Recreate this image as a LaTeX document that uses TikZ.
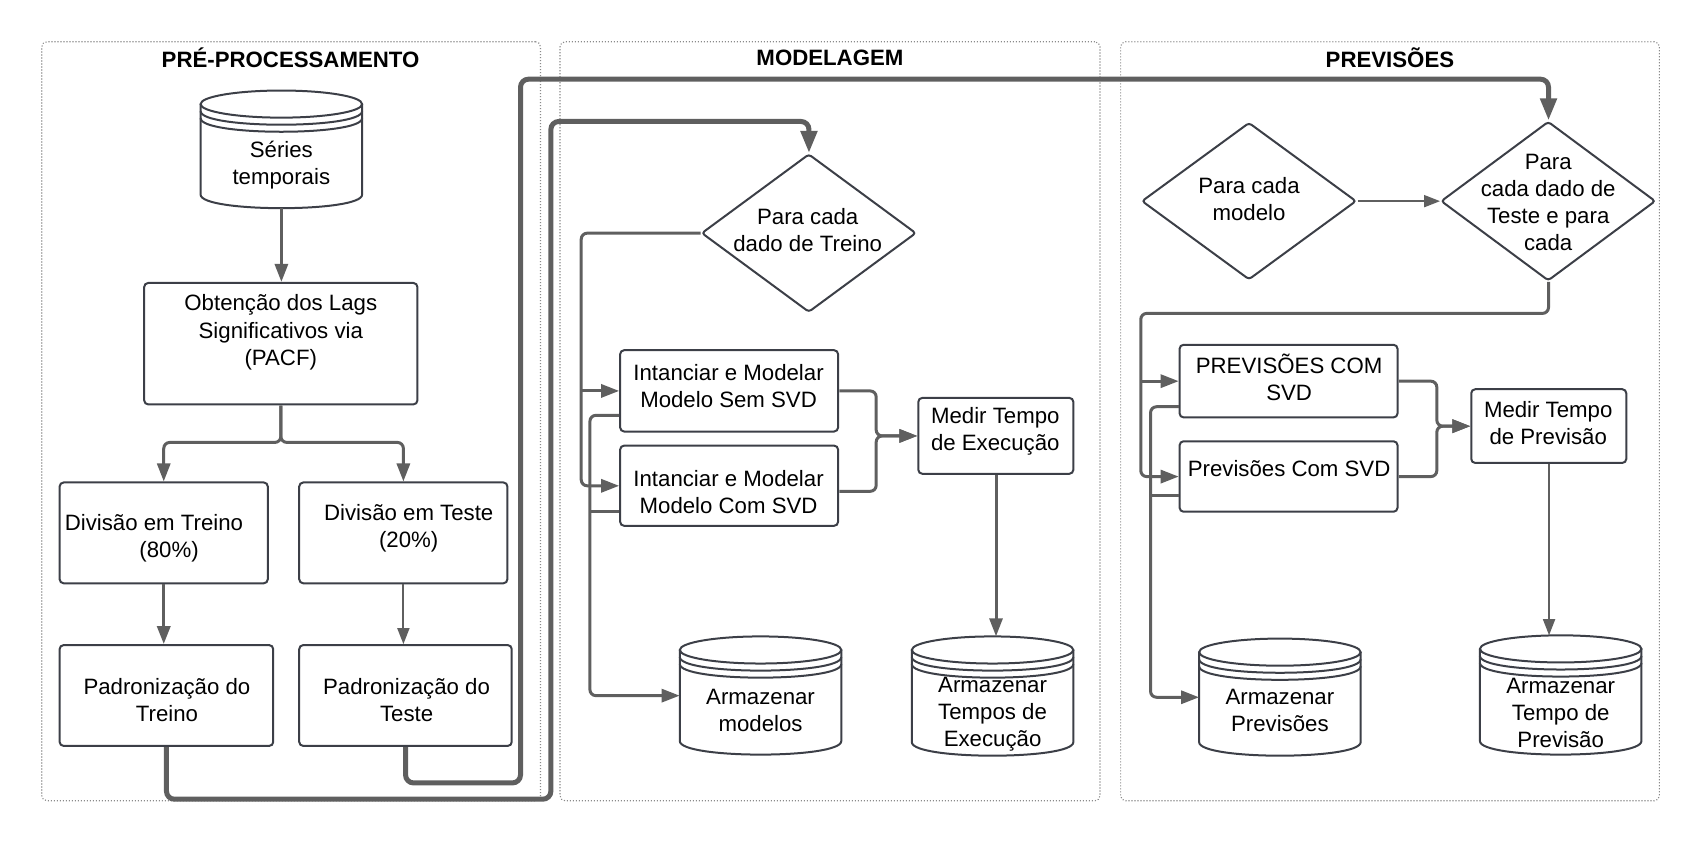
\documentclass[tikz,border=0pt]{standalone}
\usepackage{fontspec}
\setmainfont{Liberation Sans}
\usetikzlibrary{arrows.meta,shapes.geometric,calc}
\definecolor{conncol}{HTML}{5F5F5F}
\definecolor{bordcol}{HTML}{3C3F47}
\definecolor{panelcol}{HTML}{8A8A8A}
\tikzset{
  panel/.style={draw=panelcol, line width=1.1pt, dash pattern=on 1.1pt off 1.9pt, rounded corners=5pt, inner sep=0, anchor=north west},
  ttl/.style={font=\fontsize{20.5}{25}\selectfont\bfseries, inner sep=0},
  txt/.style={font=\fontsize{20.5}{25}\selectfont, align=center, inner sep=0},
  rbox/.style={draw=bordcol, line width=2pt, rounded corners=4pt, inner sep=0},
  dbox/.style={diamond, draw=bordcol, line width=2pt, rounded corners=3pt, inner sep=0},
  cylbox/.style={inner sep=0},
  cylline/.style={draw=bordcol, line width=2pt},
  plain/.style={draw=conncol, line width=3pt, rounded corners=6pt},
  conn/.style={plain, -{Triangle[length=18pt,width=13pt]}},
  thinconn/.style={draw=conncol, line width=1.8pt, -{Triangle[length=16pt,width=12pt]}},
  bigconn/.style={draw=conncol, line width=5pt, rounded corners=8pt, -{Triangle[length=22pt,width=16pt]}},
}
\newcommand\cylnode[5]{% name, cx, top, bottom, half width
  \node[cylbox, minimum width=2*#5, minimum height=#4-#3] (#1) at (#2,{(#3+#4)/2}) {};
  \draw[cylline] (#2,{#3+12.5}) ellipse [x radius=#5, y radius=12.5];
  \draw[cylline] ({#2-#5},{#3+12.5}) -- ({#2-#5},{#4-12.5})
     .. controls ({#2-#5},{#4+4.17}) and ({#2+#5},{#4+4.17}) .. ({#2+#5},{#4-12.5}) -- ({#2+#5},{#3+12.5});
  \draw[cylline] ({#2-#5},{#3+19}) .. controls ({#2-#5},{#3+35.7}) and ({#2+#5},{#3+35.7}) .. ({#2+#5},{#3+19});
  \draw[cylline] ({#2-#5},{#3+25.5}) .. controls ({#2-#5},{#3+42.2}) and ({#2+#5},{#3+42.2}) .. ({#2+#5},{#3+25.5});
}
\begin{document}
\begin{tikzpicture}[x=1pt,y=-1pt,scale=1.0842,transform shape]
\useasboundingbox (0,0) rectangle (1568,775.7);

% panels
\node[panel, minimum width=460, minimum height=700] (pan1) at (38,38) {};
\node[panel, minimum width=498, minimum height=700] (pan2) at (516,38) {};
\node[panel, minimum width=497, minimum height=700] (pan3) at (1033,38) {};
\node[ttl] (ttl1) at (268,53) {PRÉ-PROCESSAMENTO};
\node[ttl] (ttl2) at (765.5,53) {MODELAGEM};
\node[ttl] (ttl3) at (1282,53) {PREVISÕES};

% panel 1 shapes
\cylnode{ser}{259.5}{83.5}{192}{74.5}
\node[txt] (ser-t) at (259.5,152) {Séries\\temporais};
\node[rbox, minimum width=252, minimum height=112] (obt) at (259,317) {};
\node[txt] (obt-t) at (259,306.5) {Obtenção dos Lags\\Significativos via\\(PACF)};
\node[rbox, minimum width=192, minimum height=93] (dvTr) at (151,491.5) {};
\node[txt] (dvTr-t) at (156,496.5) {Divisão em Treino\hspace*{28pt}\\(80\%)};
\node[rbox, minimum width=192, minimum height=93] (dvTe) at (372,491.5) {};
\node[txt] (dvTe-t) at (377,487.5) {Divisão em Teste\\(20\%)};
\node[rbox, minimum width=197, minimum height=93] (pTr) at (153.5,641.5) {};
\node[txt] (pTr-t) at (154,645.5) {Padronização do\\Treino};
\node[rbox, minimum width=196, minimum height=93] (pTe) at (374,641.5) {};
\node[txt] (pTe-t) at (375,645.5) {Padronização do\\Teste};

% panel 2 shapes
\node[dbox, minimum width=198, minimum height=146] (dTr) at (746,215) {};
\node[txt] (dTr-t) at (745,212.5) {Para cada\\dado de Treino};
\node[rbox, minimum width=201, minimum height=75] (sem) at (672.5,360.5) {};
\node[txt] (sem-t) at (672,356) {Intanciar e Modelar\\Modelo Sem SVD};
\node[rbox, minimum width=201, minimum height=74] (com) at (672.5,448) {};
\node[txt] (com-t) at (672,453.5) {Intanciar e Modelar\\Modelo Com SVD};
\node[rbox, minimum width=143, minimum height=70] (medE) at (918.5,402) {};
\node[txt] (medE-t) at (918,397.5) {Medir Tempo\\de Execução};
\cylnode{armM}{701.5}{587}{696}{74.5}
\node[txt] (armM-t) at (701.5,655) {Armazenar\\modelos};
\cylnode{armE}{915.5}{587}{697}{74.5}
\node[txt] (armE-t) at (915.5,659) {Armazenar\\Tempos de\\Execução};

% panel 3 shapes
\node[dbox, minimum width=198, minimum height=145] (dMo) at (1152,185.5) {};
\node[txt] (dMo-t) at (1152,183.5) {Para cada\\modelo};
\node[dbox, minimum width=198, minimum height=147] (dTe) at (1428,185.5) {};
\node[txt] (dTe-t) at (1428,187) {Para\\cada dado de\\Teste e para\\cada};
\node[rbox, minimum width=201, minimum height=67] (pC1) at (1188.5,351.5) {};
\node[txt] (pC1-t) at (1189,348) {PREVISÕES COM\\SVD};
\node[rbox, minimum width=201, minimum height=65] (pC2) at (1188.5,439.5) {};
\node[txt] (pC2-t) at (1189,432) {Previsões Com SVD};
\node[rbox, minimum width=143, minimum height=68] (medP) at (1428.5,393) {};
\node[txt] (medP-t) at (1428,390) {Medir Tempo\\de Previsão};
\cylnode{armP}{1180.5}{589}{697}{74.5}
\node[txt] (armP-t) at (1180.5,655) {Armazenar\\Previsões};
\cylnode{armT}{1439.5}{586}{696}{74.5}
\node[txt] (armT-t) at (1439.5,657.5) {Armazenar\\Tempo de\\Previsão};

% helper coordinates
\coordinate (sp) at (0,408);
\coordinate (r1) at (480,722);
\coordinate (r2) at (480,73);
\coordinate (s1) at (508,737);
\coordinate (s2) at (508,112);
\coordinate (c1) at (536,0);
\coordinate (c2) at (544,0);
\coordinate (c3) at (808,0);
\coordinate (c7) at (1052,289);
\coordinate (c8) at (1061,0);
\coordinate (c9) at (1325,0);
\coordinate (comfo) at ($(com.west)+(0,24)$);
\coordinate (come) at ($(com.east)+(0,5)$);
\coordinate (p1fo) at ($(pC1.west)+(0,23.5)$);
\coordinate (p2fo) at ($(pC2.west)+(0,17.5)$);

% panel 1 connectors
\draw[conn] (ser.south) -- (ser.south |- obt.north);
\draw[conn] (obt.south) -- (obt.south |- sp) -| (dvTr.north);
\draw[conn] (obt.south) -- (obt.south |- sp) -| (dvTe.north);
\draw[conn, line width=3.4pt] (dvTr.south) -- (dvTr.south |- pTr.north);
\draw[thinconn] (dvTe.south) -- (dvTe.south |- pTe.north);

% long connectors
\draw[bigconn] (pTe.south) |- (r1) -- (r2) -| (dTe.north);
\draw[bigconn] (pTr.south) |- (s1) -- (s2) -| (dTr.north);

% panel 2 connectors
\draw[conn] (dTr.west) -| (c1 |- com.west) -- (com.west);
\draw[conn] (c1 |- sem.west) -- (sem.west);
\draw[conn] ($(sem.west)+(0,22.5)$) -| (c2 |- armM.west) -- (armM.west);
\draw[plain] (comfo) -- (c2 |- comfo);
\draw[conn] (sem.east) -| (c3 |- medE.west) -- (medE.west);
\draw[conn] (come) -| (c3 |- medE.west) -- (medE.west);
\draw[conn] (medE.south) -- (medE.south |- armE.north);

% panel 3 connectors
\draw[thinconn] (dMo.east) -- (dTe.west);
\draw[conn] (dTe.south) |- (c7) -- (c7 |- pC2.west) -- (pC2.west);
\draw[conn] (c7 |- pC1.west) -- (pC1.west);
\draw[conn] (p1fo) -| (c8 |- armP.west) -- (armP.west);
\draw[plain] (p2fo) -- (c8 |- p2fo);
\draw[conn] (pC1.east) -| (c9 |- medP.west) -- (medP.west);
\draw[conn] (pC2.east) -| (c9 |- medP.west) -- (medP.west);
\draw[thinconn] (medP.south) -- (medP.south |- armT.north);
\end{tikzpicture}
\end{document}
